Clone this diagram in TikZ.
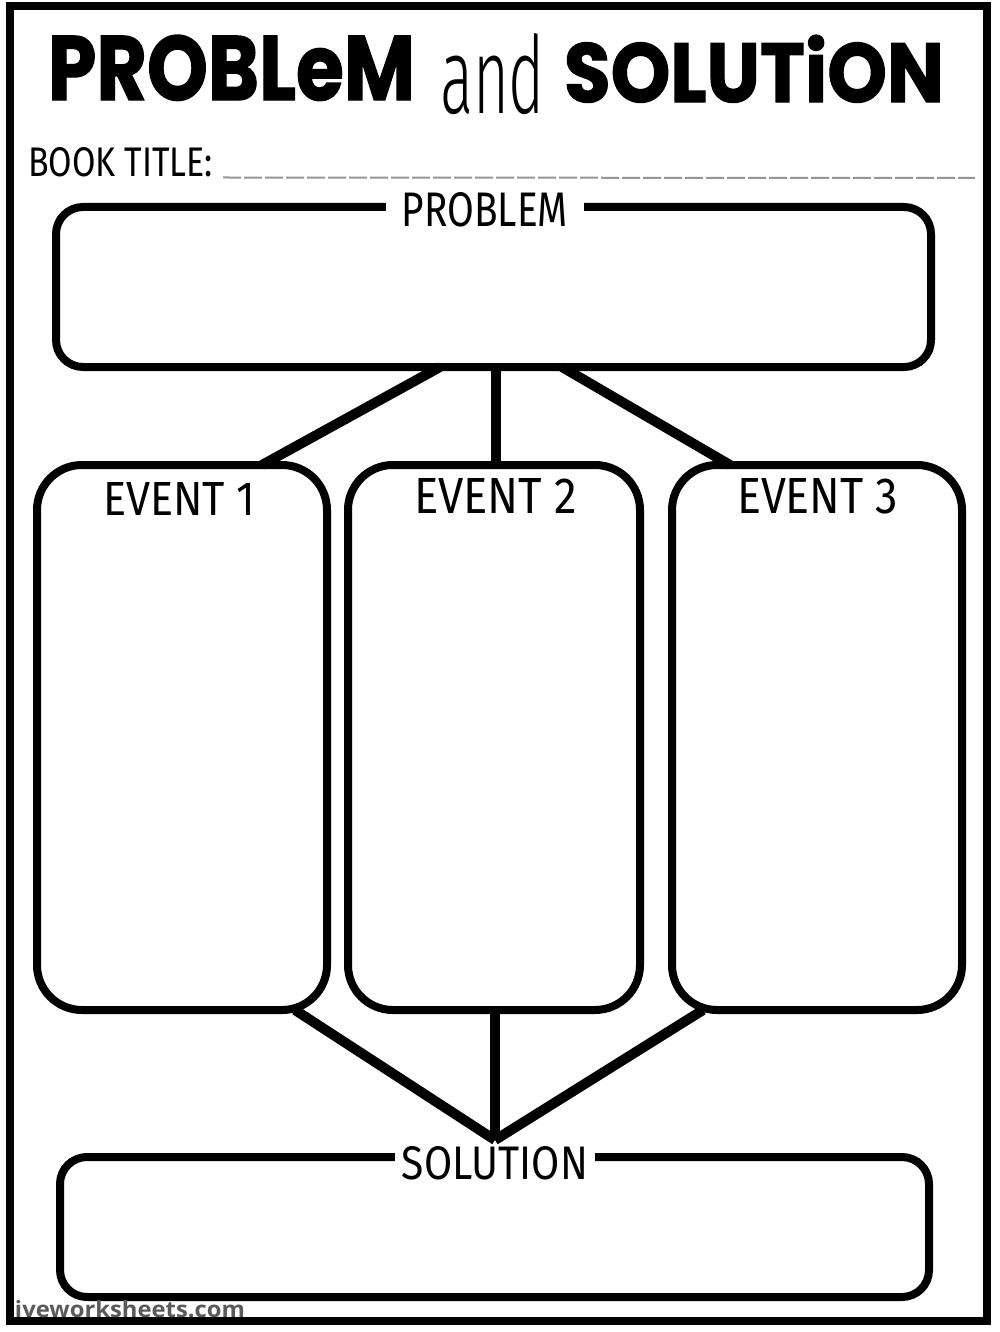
\documentclass[tikz,border=0pt]{standalone}
\usepackage{fontspec}
\usetikzlibrary{calc}
\newfontfamily\handfont{Fira Sans}
\newfontfamily\thinfont{Fira Sans Light}
\newfontfamily\titlefont{Poppins}[BoldFeatures={FakeBold=1.5}]
\newfontfamily\wmfont{Open Sans}
\newcommand\fitto[3]{\resizebox{#1pt}{#2pt}{#3}}
\definecolor{wmgray}{RGB}{90,90,90}
\definecolor{linegray}{RGB}{150,150,150}
\begin{document}
\begin{tikzpicture}[x=1pt,y=-1pt,
  box/.style={draw=black, line width=8pt, rounded corners=#1, inner sep=0pt, outer sep=0pt, shape=rectangle},
  box/.default=27pt,
  conn/.style={draw=black, line width=10pt},
  txt/.style={inner sep=0pt, outer sep=0pt, anchor=north west},
  onlinelabel/.style={fill=white, inner ysep=0pt, outer sep=0pt, anchor=center},
]
\useasboundingbox (0,0) rectangle (1000,1332);
\fill[white] (0,0) rectangle (1000,1332);
% page frame
\draw[line width=8pt] (10,6) rectangle (987,1321);

% title
\node[txt] (tprob) at (48,35) {\fitto{367}{65}{\titlefont\bfseries PROBLeM}};
\node[txt] (tand) at (440,33) {\fitto{105}{80}{\thinfont and}};
\node[txt] (tsol) at (564,35) {\fitto{380}{67}{\titlefont\bfseries SOLUTiON}};

% book title
\node[txt] (book) at (28,148) {\fitto{185}{29}{\handfont BOOK TITLE:}};
\coordinate (bookend) at (975,178);
\draw[linegray, line width=2pt, dash pattern=on 18pt off 3pt] (book.south east -| 223,178) -- (bookend);

\coordinate (apex) at (495,1140);

% boxes
\node[box=27pt, minimum width=875pt, minimum height=160pt] (prob) at (493.5,287) {};
\node[box=45pt, minimum width=290pt, minimum height=545pt] (ev1) at (182,737.5) {};
\node[box=45pt, minimum width=292pt, minimum height=545pt] (ev2) at (494,737.5) {};
\node[box=45pt, minimum width=290pt, minimum height=545pt] (ev3) at (817,737.5) {};
\node[box=27pt, minimum width=869pt, minimum height=140pt] (sol) at (494.5,1227) {};

% connectors
\draw[conn] ([xshift=-53.5pt]prob.south) -- ([xshift=80pt]ev1.north);
\draw[conn] ([xshift=2.5pt]prob.south) -- ([xshift=2pt]ev2.north);
\draw[conn] ([xshift=68.5pt]prob.south) -- ([xshift=-87pt]ev3.north);

\draw[conn] ([xshift=113pt]ev1.south) -- (apex);
\draw[conn] ([xshift=1pt]ev2.south) -- (apex);
\draw[conn] ([xshift=-114pt]ev3.south) -- (apex);

% labels
\node[onlinelabel, inner xsep=16pt] (lprob) at (485,210) {\fitto{166}{34}{\handfont PROBLEM}};
\node[onlinelabel, inner xsep=7pt] (lsol) at (495,1163.5) {\fitto{186}{33}{\handfont SOLUTION}};
\node[txt] (le1) at (103,482) {\fitto{152}{33}{\handfont EVENT 1}};
\node[txt] (le2) at (414,478) {\fitto{163}{35}{\handfont EVENT 2}};
\node[txt] (le3) at (737,478) {\fitto{161}{35}{\handfont EVENT 3}};

% watermark
\node[txt, text=wmgray] (wm) at (15,1300) {\fitto{230}{17}{\wmfont\bfseries iveworksheets.com}};
\end{tikzpicture}
\end{document}
